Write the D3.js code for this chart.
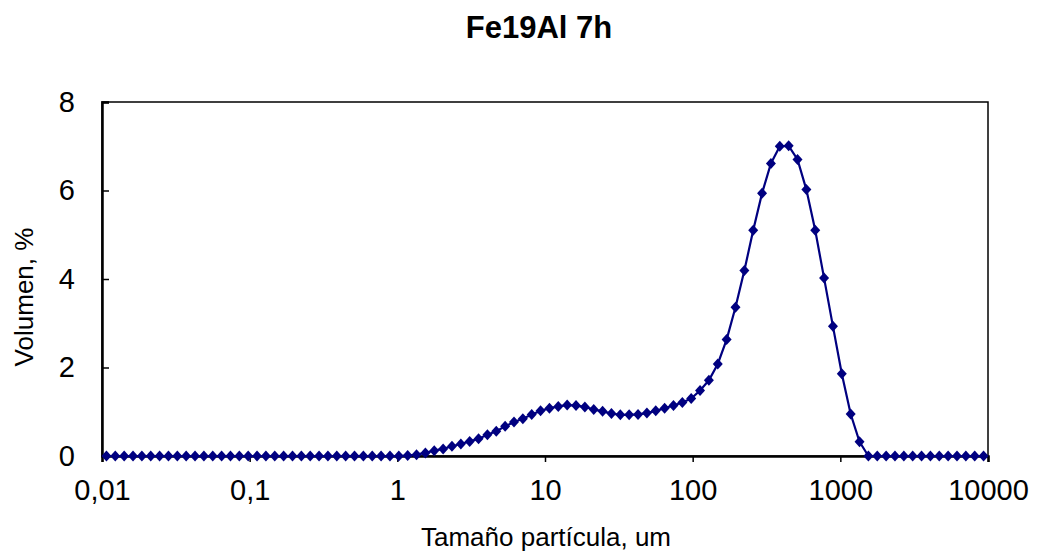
<!DOCTYPE html>
<html>
<head>
<meta charset="utf-8">
<script src="https://cdn.jsdelivr.net/npm/d3@7/dist/d3.min.js"></script>
<style>
  html, body { margin: 0; padding: 0; background: #fff; }
  svg { display: block; font-family: Arial, "Liberation Sans", sans-serif; }
</style>
</head>
<body>
<svg id="chart" width="1037" height="552"></svg>
<script>
// particle size classes (um) and volume (%)
const sizes = [
  0.01072, 0.01230, 0.01413, 0.01622, 0.01862, 0.02138, 0.02455, 0.02818, 0.03236, 0.03715,
  0.04266, 0.04898, 0.05623, 0.06457, 0.07413, 0.08511, 0.09772, 0.1122, 0.1288, 0.1479,
  0.1698, 0.1950, 0.2239, 0.2570, 0.2951, 0.3388, 0.3890, 0.4467, 0.5129, 0.5888,
  0.6761, 0.7762, 0.8913, 1.023, 1.175, 1.349, 1.549, 1.778, 2.042, 2.344,
  2.692, 3.090, 3.548, 4.074, 4.677, 5.370, 6.166, 7.079, 8.128, 9.333,
  10.72, 12.30, 14.13, 16.22, 18.62, 21.38, 24.55, 28.18, 32.36, 37.15,
  42.66, 48.98, 56.23, 64.57, 74.13, 85.11, 97.72, 112.2, 128.8, 147.9,
  169.8, 195.0, 223.9, 257.0, 295.1, 338.8, 389.0, 446.7, 512.9, 588.8,
  676.1, 776.2, 891.3, 1023, 1175, 1349, 1549, 1778, 2042, 2344,
  2692, 3090, 3548, 4074, 4677, 5370, 6166, 7079, 8128, 9333
];
const volume = [
  0, 0, 0, 0, 0, 0, 0, 0, 0, 0,
  0, 0, 0, 0, 0, 0, 0, 0, 0, 0,
  0, 0, 0, 0, 0, 0, 0, 0, 0, 0,
  0, 0, 0, 0, 0.01, 0.03, 0.07, 0.12, 0.16, 0.22,
  0.27, 0.33, 0.39, 0.48, 0.56, 0.67, 0.77, 0.84, 0.94, 1.02,
  1.08, 1.12, 1.15, 1.14, 1.11, 1.05, 1.01, 0.96, 0.93, 0.93,
  0.94, 0.97, 1.02, 1.08, 1.14, 1.21, 1.30, 1.48, 1.71, 2.08,
  2.63, 3.36, 4.19, 5.10, 5.94, 6.61, 7.00, 7.01, 6.70, 6.02,
  5.10, 4.02, 2.93, 1.86, 0.95, 0.32, 0, 0, 0, 0,
  0, 0, 0, 0, 0, 0, 0, 0, 0, 0
];
const xTicks = [0.01, 0.1, 1, 10, 100, 1000, 10000];
const xTickLabels = ['0,01', '0,1', '1', '10', '100', '1000', '10000'];
const yTicks = [0, 2, 4, 6, 8];
const title = 'Fe19Al 7h';
const xTitle = 'Tamaño partícula, um';
const yTitle = 'Volumen, %';

const margin = { top: 102, right: 49, bottom: 96, left: 102 };
const width = 1037;
const height = 552;
const plotWidth = width - margin.left - margin.right;
const plotHeight = height - margin.top - margin.bottom;
const navy = '#000080';

const svg = d3.select('#chart');
const chart = svg.append('g').attr('transform', `translate(${margin.left},${margin.top})`);

const xScale = d3.scaleLog().domain([0.01, 10000]).range([0, plotWidth]);
const yScale = d3.scaleLinear().domain([0, 8]).range([plotHeight, 0]);

const data = sizes.map((s, i) => ({ size: s, vol: volume[i] }));

// frame
chart.append('rect')
  .attr('width', plotWidth)
  .attr('height', plotHeight)
  .attr('fill', 'none')
  .attr('stroke', '#000')
  .attr('stroke-width', 1.5);

// x axis: ticks outside
const xAxis = chart.append('g')
  .attr('transform', `translate(0,${plotHeight})`)
  .call(d3.axisBottom(xScale).tickValues(xTicks).tickSize(6).tickPadding(17)
    .tickFormat((d, i) => xTickLabels[i]));
xAxis.select('.domain').attr('stroke-width', 2.5);
xAxis.selectAll('.tick line').attr('stroke-width', 1.5);
xAxis.selectAll('text').attr('font-size', 29).attr('fill', '#000').attr('font-family', 'Arial, "Liberation Sans", sans-serif');

// y axis: ticks inside
const yAxis = chart.append('g')
  .call(d3.axisLeft(yScale).tickValues(yTicks).tickSize(-7).tickPadding(27));
yAxis.select('.domain').attr('stroke-width', 2.5);
yAxis.selectAll('.tick line').attr('stroke-width', 1.5);
yAxis.selectAll('text').attr('font-size', 29).attr('fill', '#000').attr('font-family', 'Arial, "Liberation Sans", sans-serif');

// series line
const line = d3.line().x((d) => xScale(d.size)).y((d) => yScale(d.vol));
chart.append('path')
  .datum(data)
  .attr('d', line)
  .attr('fill', 'none')
  .attr('stroke', navy)
  .attr('stroke-width', 2.2);

// diamond markers
const r = 5.5;
chart.append('g')
  .selectAll('path')
  .data(data)
  .join('path')
  .attr('transform', (d) => `translate(${xScale(d.size)},${yScale(d.vol)})`)
  .attr('d', `M0,${-r}L${r - 0.5},0L0,${r}L${-(r - 0.5)},0Z`)
  .attr('fill', navy);

// titles
svg.append('text')
  .attr('x', 539)
  .attr('y', 38)
  .attr('text-anchor', 'middle')
  .attr('font-size', 31)
  .attr('font-weight', 'bold')
  .text(title);

svg.append('text')
  .attr('x', 546)
  .attr('y', 546)
  .attr('text-anchor', 'middle')
  .attr('font-size', 26)
  .text(xTitle);

svg.append('text')
  .attr('transform', 'translate(33,297) rotate(-90)')
  .attr('text-anchor', 'middle')
  .attr('font-size', 26)
  .text(yTitle);
</script>
</body>
</html>
